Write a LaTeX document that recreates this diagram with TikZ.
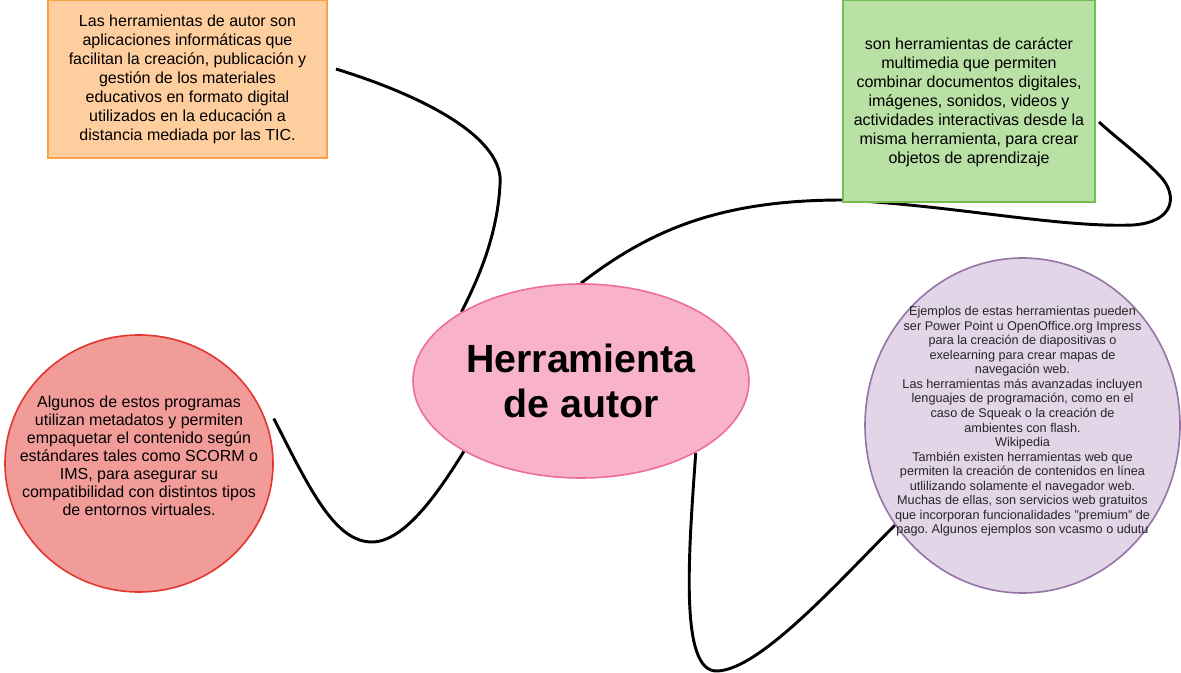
\documentclass[tikz,border=0pt]{standalone}
\usepackage{fontspec}
\setmainfont{Liberation Sans}
\usepackage{tikz}
\usetikzlibrary{shapes.geometric,backgrounds,positioning}
\definecolor{pinkfill}{HTML}{F8B3CB}
\definecolor{pinkline}{HTML}{EE6D99}
\definecolor{orangefill}{HTML}{FFCE9F}
\definecolor{orangeline}{HTML}{F9A048}
\definecolor{greenfill}{HTML}{B9E0A5}
\definecolor{greenline}{HTML}{72BE4E}
\definecolor{redfill}{HTML}{F19C99}
\definecolor{redline}{HTML}{E3362F}
\definecolor{purplefill}{HTML}{E1D5E7}
\definecolor{purpleline}{HTML}{9673A6}
\frenchspacing

\begin{document}
\begin{tikzpicture}[x=0.75pt,y=-0.75pt,every node/.style={align=center,inner sep=0pt,font=\fontsize{12}{14.25}\selectfont},
  box/.style={draw,line width=1.5pt},
  link/.style={line width=2.2pt}]
  \useasboundingbox (0,0) rectangle (1181,673);
  \node [ellipse, draw=pinkline, fill=pinkfill, line width=1.2pt, minimum width=252pt, minimum height=145.5pt, font=\fontsize{29.5}{33.75}\selectfont\bfseries] (1) at (581,381) {Herramienta\\de autor};
  \node [box, draw=orangeline, fill=orangefill, minimum width=209.25pt, minimum height=118.5pt] (2) at (187.5,79) {Las herramientas de autor son\\aplicaciones informáticas que\\facilitan la creación, publicación y\\gestión de los materiales\\educativos en formato digital\\utilizados en la educación a\\distancia mediada por las TIC.};
  \node [box, draw=greenline, fill=greenfill, minimum width=189pt, minimum height=151.5pt, text depth=-7.5pt] (3) at (969,101) {son herramientas de carácter\\multimedia que permiten\\combinar documentos digitales,\\imágenes, sonidos, videos y\\actividades interactivas desde la\\misma herramienta, para crear\\objetos de aprendizaje};
  \node [ellipse, draw=redline, fill=redfill, line width=1.2pt, minimum width=201pt, minimum height=192.75pt] (4) at (139,463.5) {};
  \node [ellipse, draw=purpleline, fill=purplefill, line width=1.2pt, minimum width=236.25pt, minimum height=251.25pt] (5) at (1022.5,425.5) {};
  \node [font=\fontsize{12}{13.5}\selectfont] (6) at ([yshift=6pt]4.center) {Algunos de estos programas\\utilizan metadatos y permiten\\empaquetar el contenido según\\estándares tales como SCORM o\\IMS, para asegurar su\\compatibilidad con distintos tipos\\de entornos virtuales.};
  \node [font=\fontsize{9.5}{10.9}\selectfont, text=black!85] (7) at ([yshift=3pt]5.center) {Ejemplos de estas herramientas pueden\\ser Power Point u OpenOffice.org Impress\\para la creación de diapositivas o\\exelearning para crear mapas de\\navegación web.\\Las herramientas más avanzadas incluyen\\lenguajes de programación, como en el\\caso de Squeak o la creación de\\ambientes con flash.\\Wikipedia\\También existen herramientas web que\\permiten la creación de contenidos en línea\\utlilizando solamente el navegador web.\\Muchas de ellas, son servicios web gratuitos\\que incorporan funcionalidades \symbol{34}premium\symbol{34} de\\pago. Algunos ejemplos son vcasmo o udutu};
  \begin{scope}[on background layer]
    \draw [link] ([shift={(8,-10)}]2.east) .. controls (430,98) and (505,140) .. (500,185) .. controls (497,240) and (475,285) .. (1.150);
    \draw [link] (1.north) .. controls (650,230) and (720,200) .. (843,200) .. controls (950,205) and (1060,228) .. (1133,225) .. controls (1175,222) and (1178,195) .. (1160,176) .. controls (1140,155) and (1115,137) .. ([shift={(3,21)}]3.east);
    \draw [link] ([shift={(0,-45)}]4.east) .. controls (310,490) and (335,542) .. (372,542) .. controls (405,542) and (440,490) .. (1.211);
    \draw [link] (1.328) .. controls (688,560) and (680,672) .. (717,671) .. controls (760,670) and (840,580) .. (5.218);
  \end{scope}
\end{tikzpicture}
\end{document}
